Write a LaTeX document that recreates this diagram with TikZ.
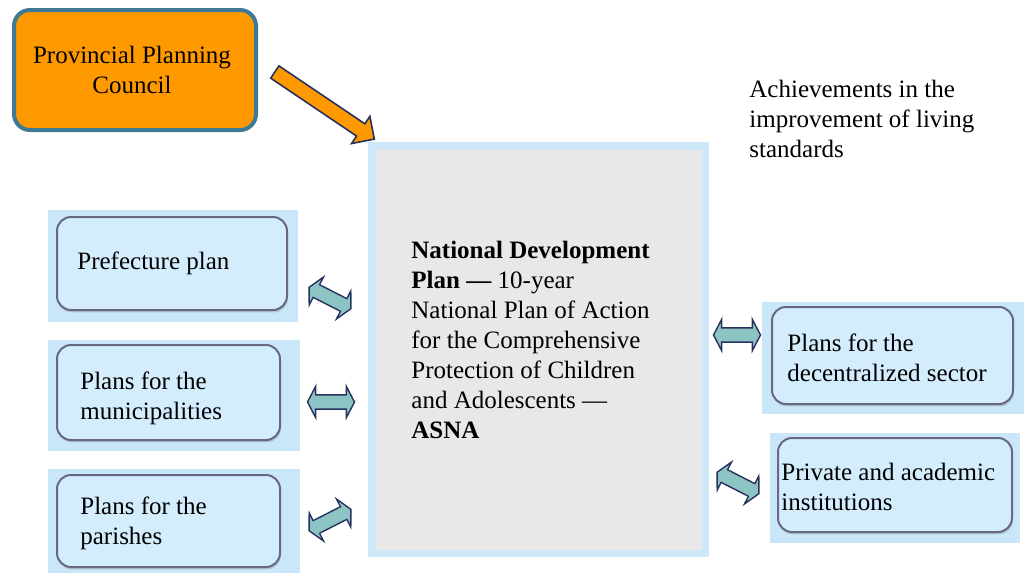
\documentclass[tikz,border=0pt]{standalone}
\usepackage{fontspec}
\setmainfont{Liberation Serif}
\usetikzlibrary{shapes.arrows,shadows}

\definecolor{ppcorange}{RGB}{255,153,0}
\definecolor{ppcline}{RGB}{62,122,150}
\definecolor{bgblue}{RGB}{201,231,249}
\definecolor{boxblue}{RGB}{212,237,253}
\definecolor{boxline}{RGB}{104,104,134}
\definecolor{ndpfill}{RGB}{232,232,232}
\definecolor{ndpborder}{RGB}{206,232,250}
\definecolor{arrowteal}{RGB}{140,196,196}
\definecolor{arrowline}{RGB}{40,50,95}

\tikzset{
	planbox/.style={draw=boxline, fill=boxblue, line width=1pt, rounded corners=7pt,
		drop shadow={opacity=0.35, shadow xshift=0.4pt, shadow yshift=-1.2pt}},
	plantxt/.style={anchor=north west, inner sep=0pt, align=left, font=\fontsize{12.5}{15}\selectfont},
	linkarrow/.style={double arrow, draw=arrowline, fill=arrowteal, line width=0.7pt,
		minimum height=23.5pt, inner sep=3.2pt, double arrow head extend=4.3pt, double arrow tip angle=125},
}

\begin{document}
\begin{tikzpicture}[x=0.5pt, y=-0.5pt]
			%%%%% START %%%%%
			\useasboundingbox (0,0) rectangle (1024,573);
			
			% provincial council
			\draw[fill=ppcorange, draw=ppcline, line width=2pt, rounded corners=8pt] (14,10) rectangle (256,130);
			\node[plantxt, anchor=north, align=center] (ppc) at (132,46) {Provincial Planning\\Council};
			\node[single arrow, draw=arrowline, fill=ppcorange, line width=0.8pt, minimum height=60pt,
				inner sep=3.3pt, single arrow head extend=4.5pt, rotate=-34] (ppcarrow) at (321.5,103.5) {};
			
			% national plan
			\fill[ndpborder] (368,142) rectangle (709,557);
			\fill[ndpfill] (376,150) rectangle (702,550);
			\node[plantxt] (ndp) at (411,241) {\textbf{National Development}\\\textbf{Plan —} 10-year\\National Plan of Action\\for the Comprehensive\\Protection of Children\\and Adolescents —\\\textbf{ASNA}};
			
			\node[plantxt] (goal) at (749,80) {Achievements in the\\improvement of living\\standards};
			
			% left plans
			\fill[bgblue] (48,210) rectangle (298,322);
			\draw[planbox] (57,217) rectangle (287,310);
			\node[plantxt] (pref) at (77,251) {Prefecture plan};
			
			\fill[bgblue] (48,340) rectangle (300,451);
			\draw[planbox] (57,345) rectangle (280,440);
			\node[plantxt] (muni) at (80,371) {Plans for the\\municipalities};
			
			\fill[bgblue] (48,469) rectangle (300,573);
			\draw[planbox] (57,475) rectangle (280,567);
			\node[plantxt] (parish) at (80,496) {Plans for the\\parishes};
			
			% right plans
			\fill[bgblue] (762,302) rectangle (1024,414);
			\draw[planbox] (772,307) rectangle (1013,404);
			\node[plantxt] (decen) at (787,333) {Plans for the\\decentralized sector};
			
			\fill[bgblue] (770,433) rectangle (1020,543);
			\draw[planbox] (778,438) rectangle (1012,532);
			\node[plantxt] (priv) at (781,463) {Private and academic\\institutions};
			
			% links
			\node[linkarrow, rotate=-27] (link1) at (330,298) {};
			\node[linkarrow] (link2) at (331,402) {};
			\node[linkarrow, rotate=27] (link3) at (330,520) {};
			\node[linkarrow] (link4) at (737,335) {};
			\node[linkarrow, rotate=-27] (link5) at (738,483) {};
			
			%%%%% END %%%%%
\end{tikzpicture}
\end{document}
